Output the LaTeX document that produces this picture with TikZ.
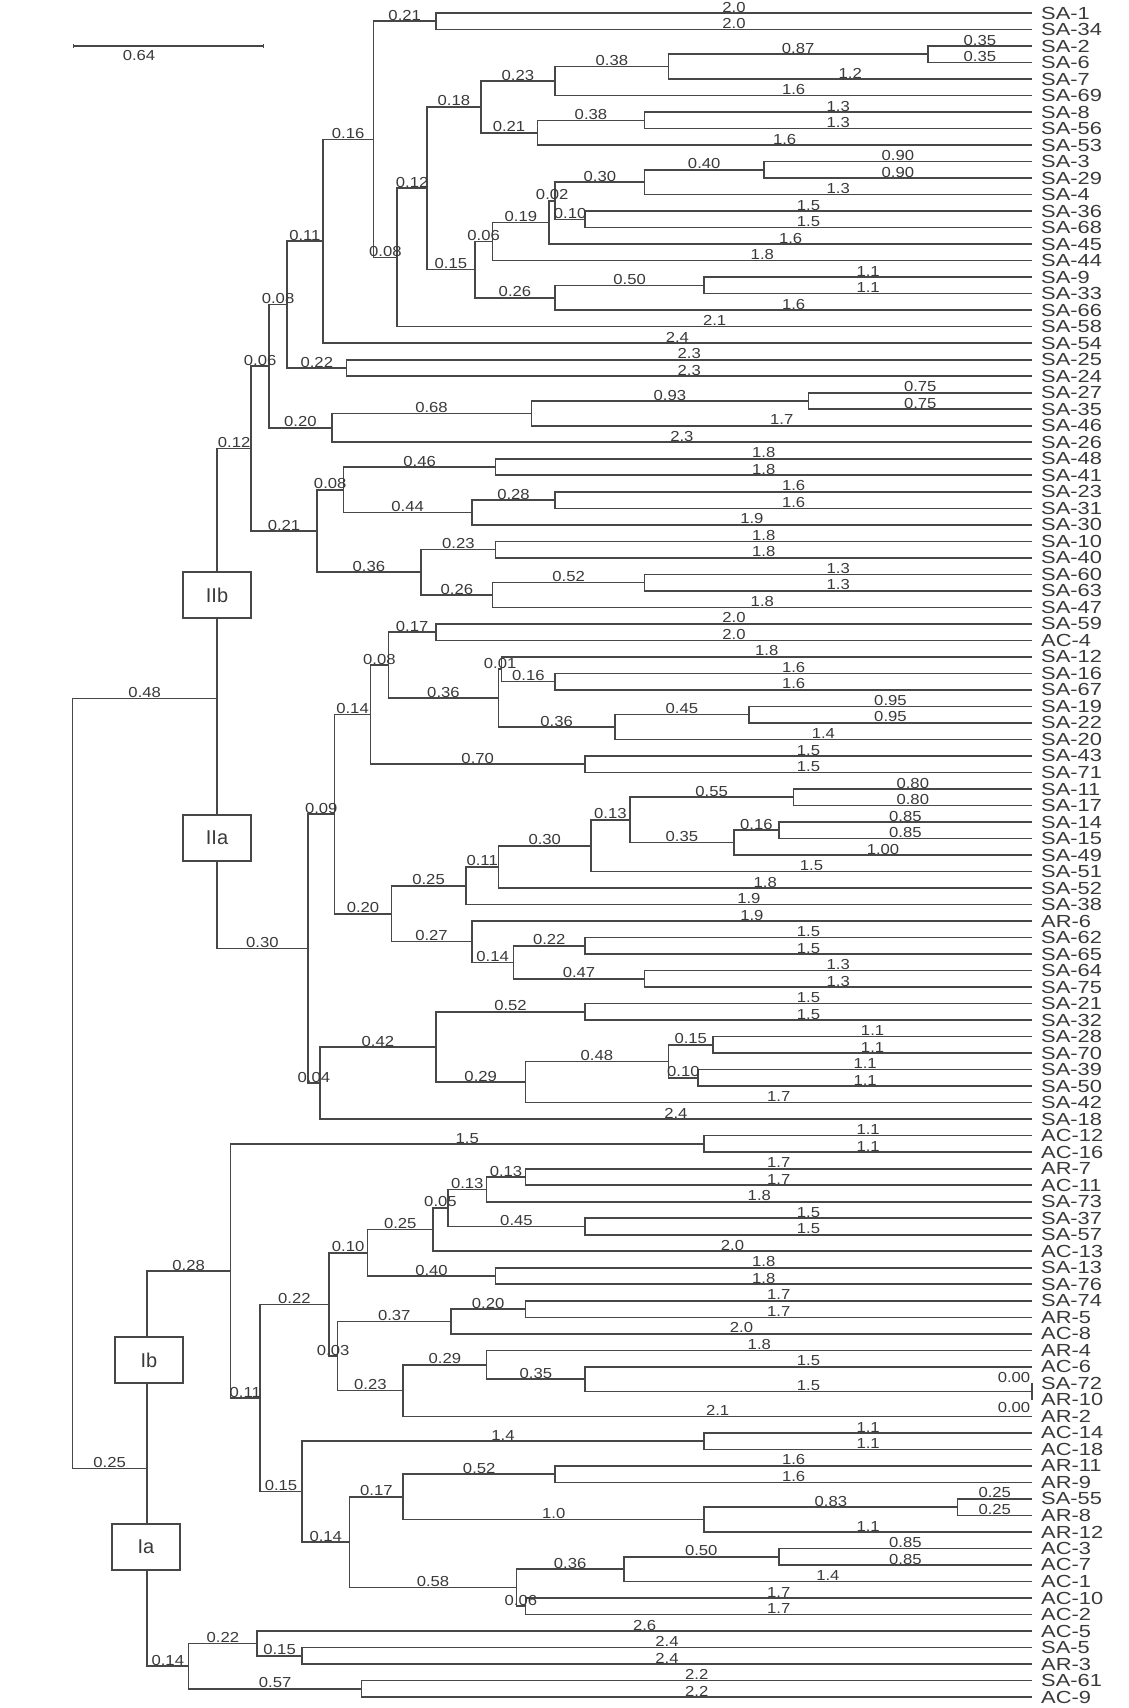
\documentclass[tikz,border=0pt]{standalone}
\usepackage{fontspec}
\setmainfont{Liberation Sans}
\newfontfamily\lfont[FakeStretch=1.25]{Liberation Sans}
\newfontfamily\bfontx[FakeStretch=1.15]{Liberation Sans}
\usetikzlibrary{calc,arrows.meta}
\definecolor{ln}{HTML}{474747}
\definecolor{tx}{HTML}{3A3A3A}
\tikzset{
  br/.style={draw=ln, line width=1.6pt},
  bl/.style={font=\bfontx\fontsize{14.5}{14.5}\selectfont, text=tx, inner sep=0.6pt, anchor=south},
  leaflab/.style={font=\lfont\fontsize{17.5}{17.5}\selectfont, text=tx, inner sep=0pt, anchor=west},
  gbox/.style={draw=ln, line width=1.5pt, fill=white, minimum width=68pt, minimum height=46pt,
    font=\fontsize{20}{20}\selectfont, text=tx, inner sep=0pt},
}
% name, height, child1, label1, child2, label2
\newcommand\tjoin[6]{%
  \path let \p1=($(#3)!.5!(#5)$) in coordinate (#1) at ({1032pt-298pt*#2},\y1);
  \draw[br] (#3) -| (#1) |- (#5);
  \path (#1 |- #3) -- node[bl] (e#3) {#4} (#3);
  \path (#1 |- #5) -- node[bl] (e#5) {#6} (#5);
}
\begin{document}
\begin{tikzpicture}
\useasboundingbox (0pt,0pt) rectangle (1128pt,-1708pt);
\fill[white] (0pt,0pt) rectangle (1128pt,-1708pt);
% leaves
\foreach \nm [count=\i] in {SA-1,SA-34,SA-2,SA-6,SA-7,SA-69,SA-8,SA-56,SA-53,SA-3,SA-29,SA-4,SA-36,SA-68,SA-45,SA-44,SA-9,SA-33,SA-66,SA-58,SA-54,SA-25,SA-24,SA-27,SA-35,SA-46,SA-26,SA-48,SA-41,SA-23,SA-31,SA-30,SA-10,SA-40,SA-60,SA-63,SA-47,SA-59,AC-4,SA-12,SA-16,SA-67,SA-19,SA-22,SA-20,SA-43,SA-71,SA-11,SA-17,SA-14,SA-15,SA-49,SA-51,SA-52,SA-38,AR-6,SA-62,SA-65,SA-64,SA-75,SA-21,SA-32,SA-28,SA-70,SA-39,SA-50,SA-42,SA-18,AC-12,AC-16,AR-7,AC-11,SA-73,SA-37,SA-57,AC-13,SA-13,SA-76,SA-74,AR-5,AC-8,AR-4,AC-6,SA-72,AR-10,AR-2,AC-14,AC-18,AR-11,AR-9,SA-55,AR-8,AR-12,AC-3,AC-7,AC-1,AC-10,AC-2,AC-5,SA-5,AR-3,SA-61,AC-9}{
  \coordinate (l\i) at (1032pt,{-13pt-(\i-1)*16.51pt});
  \node[leaflab] (t\i) at (1041pt,{-13pt-(\i-1)*16.51pt}) {\nm};
}
% ---- cluster II b
\tjoin{A}{2.0}{l1}{2.0}{l2}{2.0}
\tjoin{B}{0.35}{l3}{0.35}{l4}{0.35}
\tjoin{C}{1.22}{B}{0.87}{l5}{1.2}
\tjoin{D}{1.6}{C}{0.38}{l6}{1.6}
\tjoin{E}{1.3}{l7}{1.3}{l8}{1.3}
\tjoin{F}{1.66}{E}{0.38}{l9}{1.6}
\tjoin{G}{1.85}{D}{0.23}{F}{0.21}
\tjoin{H}{0.9}{l10}{0.90}{l11}{0.90}
\tjoin{I}{1.3}{H}{0.40}{l12}{1.3}
\tjoin{J}{1.5}{l13}{1.5}{l14}{1.5}
\tjoin{M}{1.6}{I}{0.30}{J}{0.10}
\tjoin{L}{1.62}{M}{0.02}{l15}{1.6}
\tjoin{K}{1.81}{L}{0.19}{l16}{1.8}
\tjoin{N}{1.1}{l17}{1.1}{l18}{1.1}
\tjoin{O}{1.6}{N}{0.50}{l19}{1.6}
\tjoin{P}{1.87}{K}{0.06}{O}{0.26}
\tjoin{Q}{2.03}{G}{0.18}{P}{0.15}
\tjoin{R}{2.13}{Q}{0.12}{l20}{2.1}
\tjoin{S}{2.21}{A}{0.21}{R}{0.08}
\tjoin{T}{2.38}{S}{0.16}{l21}{2.4}
\tjoin{V}{2.3}{l22}{2.3}{l23}{2.3}
\tjoin{U}{2.5}{T}{0.11}{V}{0.22}
\tjoin{Z}{0.75}{l24}{0.75}{l25}{0.75}
\tjoin{Y}{1.68}{Z}{0.93}{l26}{1.7}
\tjoin{X}{2.35}{Y}{0.68}{l27}{2.3}
\tjoin{W}{2.56}{U}{0.08}{X}{0.20}
\tjoin{AE}{1.8}{l28}{1.8}{l29}{1.8}
\tjoin{AG}{1.6}{l30}{1.6}{l31}{1.6}
\tjoin{AF}{1.88}{AG}{0.28}{l32}{1.9}
\tjoin{AC}{2.31}{AE}{0.46}{AF}{0.44}
\tjoin{AH}{1.8}{l33}{1.8}{l34}{1.8}
\tjoin{AJ}{1.3}{l35}{1.3}{l36}{1.3}
\tjoin{AI}{1.81}{AJ}{0.52}{l37}{1.8}
\tjoin{AD}{2.05}{AH}{0.23}{AI}{0.26}
\tjoin{AB}{2.40}{AC}{0.08}{AD}{0.36}
\tjoin{AA}{2.62}{W}{0.06}{AB}{0.21}
% ---- cluster II a
\tjoin{MM}{2.0}{l38}{2.0}{l39}{2.0}
\tjoin{QQ}{1.6}{l41}{1.6}{l42}{1.6}
\tjoin{OO}{1.78}{l40}{1.8}{QQ}{0.16}
\tjoin{RR}{0.95}{l43}{0.95}{l44}{0.95}
\tjoin{PP}{1.4}{RR}{0.45}{l45}{1.4}
\tjoin{NN}{1.79}{OO}{0.01}{PP}{0.36}
\tjoin{LL}{2.16}{MM}{0.17}{NN}{0.36}
\tjoin{SB}{1.5}{l46}{1.5}{l47}{1.5}
\tjoin{JJ}{2.22}{LL}{0.08}{SB}{0.70}
\tjoin{XX}{0.8}{l48}{0.80}{l49}{0.80}
\tjoin{ZZ}{0.85}{l50}{0.85}{l51}{0.85}
\tjoin{YY}{1.0}{ZZ}{0.16}{l52}{1.00}
\tjoin{WW}{1.35}{XX}{0.55}{YY}{0.35}
\tjoin{VV}{1.48}{WW}{0.13}{l53}{1.5}
\tjoin{UU}{1.79}{VV}{0.30}{l54}{1.8}
\tjoin{SS}{1.9}{UU}{0.11}{l55}{1.9}
\tjoin{BBB}{1.5}{l57}{1.5}{l58}{1.5}
\tjoin{CCC}{1.3}{l59}{1.3}{l60}{1.3}
\tjoin{AAA}{1.74}{BBB}{0.22}{CCC}{0.47}
\tjoin{TT}{1.88}{l56}{1.9}{AAA}{0.14}
\tjoin{KK}{2.15}{SS}{0.25}{TT}{0.27}
\tjoin{IX}{2.34}{JJ}{0.14}{KK}{0.20}
\tjoin{CC}{1.5}{l61}{1.5}{l62}{1.5}
\tjoin{FF}{1.07}{l63}{1.1}{l64}{1.1}
\tjoin{GG}{1.12}{l65}{1.1}{l66}{1.1}
\tjoin{EE}{1.22}{FF}{0.15}{GG}{0.10}
\tjoin{DD}{1.7}{EE}{0.48}{l67}{1.7}
\tjoin{BB}{2.0}{CC}{0.52}{DD}{0.29}
\tjoin{HH}{2.39}{BB}{0.42}{l68}{2.4}
\tjoin{IIa}{2.43}{IX}{0.09}{HH}{0.04}
\tjoin{II}{2.735}{AA}{0.12}{IIa}{0.30}
% ---- cluster I
\tjoin{VVV}{1.1}{l69}{1.1}{l70}{1.1}
\tjoin{OOO}{1.7}{l71}{1.7}{l72}{1.7}
\tjoin{MMM}{1.83}{OOO}{0.13}{l73}{1.8}
\tjoin{NNN}{1.5}{l74}{1.5}{l75}{1.5}
\tjoin{LLL}{1.96}{MMM}{0.13}{NNN}{0.45}
\tjoin{JJJ}{2.01}{LLL}{0.05}{l76}{2.0}
\tjoin{KKK}{1.8}{l77}{1.8}{l78}{1.8}
\tjoin{HHH}{2.23}{JJJ}{0.25}{KKK}{0.40}
\tjoin{RRR}{1.7}{l79}{1.7}{l80}{1.7}
\tjoin{PPP}{1.95}{RRR}{0.20}{l81}{2.0}
\tjoin{UUU}{0}{l84}{}{l85}{}
\tjoin{TTT}{1.5}{l83}{1.5}{UUU}{1.5}
\tjoin{SSS}{1.83}{l82}{1.8}{TTT}{0.35}
\tjoin{QQQ}{2.11}{SSS}{0.29}{l86}{2.1}
\tjoin{III}{2.33}{PPP}{0.37}{QQQ}{0.23}
\tjoin{FFF}{2.36}{HHH}{0.10}{III}{0.03}
\tjoin{WV}{1.1}{l87}{1.1}{l88}{1.1}
\tjoin{AXI}{1.6}{l89}{1.6}{l90}{1.6}
\tjoin{AXV}{0.25}{l91}{0.25}{l92}{0.25}
\tjoin{AXII}{1.1}{AXV}{0.83}{l93}{1.1}
\tjoin{AXVII}{2.11}{AXI}{0.52}{AXII}{1.0}
\tjoin{CIII}{0.85}{l94}{0.85}{l95}{0.85}
\tjoin{CI}{1.37}{CIII}{0.50}{l96}{1.4}
\tjoin{CX}{1.7}{l97}{1.7}{l98}{1.7}
\tjoin{CLVIII}{1.73}{CI}{0.36}{CX}{0.06}
\tjoin{CXIV}{2.29}{AXVII}{0.17}{CLVIII}{0.58}
\tjoin{GGG}{2.45}{WV}{1.4}{CXIV}{0.14}
\tjoin{EEE}{2.59}{FFF}{0.22}{GGG}{0.15}
\tjoin{DDD}{2.69}{VVV}{1.5}{EEE}{0.11}
\tjoin{ZZZ}{2.45}{l100}{2.4}{l101}{2.4}
\tjoin{XXX}{2.6}{l99}{2.6}{ZZZ}{0.15}
\tjoin{YYY}{2.25}{l102}{2.2}{l103}{2.2}
\tjoin{WWW}{2.83}{XXX}{0.22}{YYY}{0.57}
\tjoin{Inode}{2.97}{DDD}{0.28}{WWW}{0.14}
\tjoin{root}{3.22}{II}{0.48}{Inode}{0.25}
% zero-length branch labels
\node[bl, anchor=south east] (z1) at ($(l84)+(-1pt,0pt)$) {0.00};
\node[bl, anchor=north east] (z2) at ($(l85)+(-1pt,-2pt)$) {0.00};
% cluster boxes
\node[gbox] (bIIb) at (217pt,-595pt) {IIb};
\node[gbox] (bIIa) at (217pt,-838pt) {IIa};
\node[gbox] (bIb) at (149pt,-1360pt) {Ib};
\node[gbox] (bIa) at (146pt,-1547pt) {Ia};
% scale bar
\coordinate (sb1) at (73pt,-46pt);
\coordinate (sb2) at (264pt,-46pt);
\draw[br, line width=1.2pt, {Bar[width=4pt]}-{Bar[width=4pt]}] (sb1) -- (sb2);
\node[bl, anchor=north] (sbl) at (139pt,-50pt) {0.64};
\end{tikzpicture}
\end{document}
